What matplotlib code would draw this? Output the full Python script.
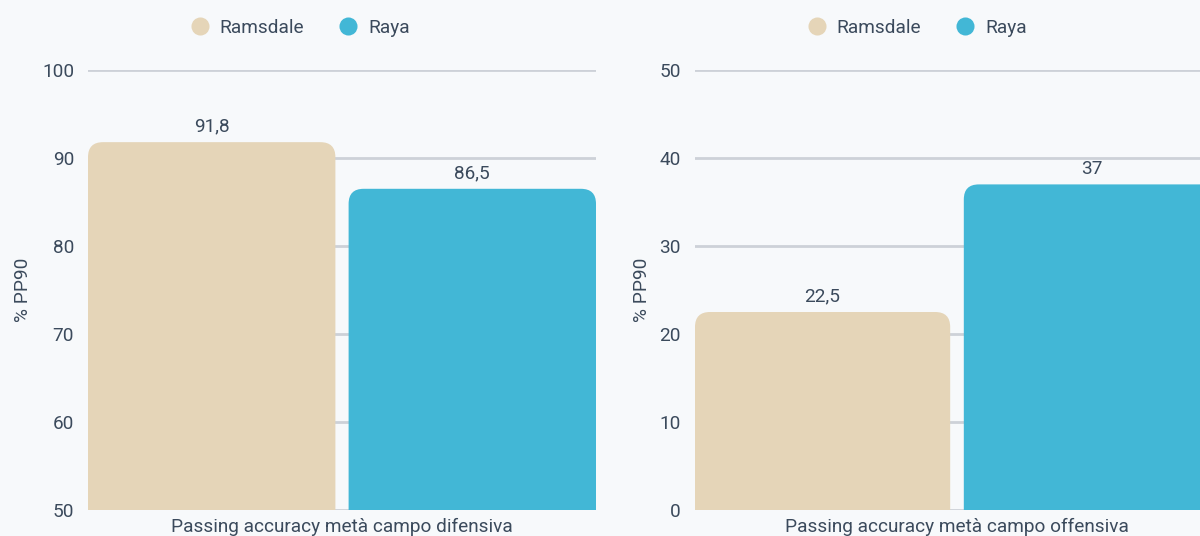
import matplotlib
matplotlib.use("Agg")
import matplotlib.pyplot as plt
from matplotlib.patches import FancyBboxPatch
from matplotlib.lines import Line2D

plt.rcParams['font.family'] = ['Roboto', 'DejaVu Sans']

players = ["Ramsdale", "Raya"]
colors = ["#e5d5b8", "#42b7d6"]
titles = ["Passing accuracy metà campo difensiva", "Passing accuracy metà campo offensiva"]
values_def = [91.8, 86.5]
values_off = [22.5, 37.0]
ylims = [(50, 100), (0, 50)]
yticks = [[50, 60, 70, 80, 90, 100], [0, 10, 20, 30, 40, 50]]
ylabel = "% PP90"

BG = "#f7f9fb"
TXT = "#3b4a5c"
GRID = "#cdd1d8"
FS = 13.7
W, H = 1200, 536
fig = plt.figure(figsize=(W / 100, H / 100), dpi=100, facecolor=BG)

ax_px = [(88, 508), (695, 524)]
top_px, bot_px = 70, 510
legend_cx = [300, 917]
ylabel_x = [32, 651]

def fmt(v):
    s = f"{v:g}"
    return s.replace(".", ",")

for i, (vals, title) in enumerate(zip([values_def, values_off], titles)):
    left, width = ax_px[i]
    ax = fig.add_axes([left / W, (H - bot_px) / H, width / W, (bot_px - top_px) / H])
    ax.set_facecolor(BG)
    y0, y1 = ylims[i]
    ax.set_xlim(0, 1)
    ax.set_ylim(y0, y1)
    ax.set_yticks(yticks[i])
    ax.tick_params(axis='y', length=0, pad=10, labelsize=FS, labelcolor=TXT)
    ax.set_xticks([])
    for s in ax.spines.values():
        s.set_visible(False)
    ax.grid(axis='y', color=GRID, linewidth=2)
    ax.set_axisbelow(True)
    ax.set_ylabel(ylabel, fontsize=FS, color=TXT)
    ax.yaxis.set_label_coords((ylabel_x[i] - left) / width, 0.5)
    ax.set_xlabel(title, fontsize=FS, color=TXT, labelpad=5.5)

    bw = 0.487
    centers = [bw / 2, 1 - bw / 2]
    bars = ax.bar(centers, vals, width=bw, bottom=0, color=colors)
    ypp = (y1 - y0) / (bot_px - top_px)
    xpp = 1.0 / width
    r_px = 15
    r = r_px * xpp
    for b, v, c in zip(bars, vals, colors):
        b.set_visible(False)
        x = b.get_x()
        ybot = y0 - 3 * r_px * ypp
        p = FancyBboxPatch((x, ybot), b.get_width(), v - ybot,
                           boxstyle=f"round,pad=0,rounding_size={r}",
                           mutation_aspect=ypp / xpp, facecolor=c,
                           edgecolor='none', zorder=2, clip_on=True)
        ax.add_patch(p)
        ax.annotate(fmt(v), (x + b.get_width() / 2, v), xytext=(0, 7.5),
                    textcoords='offset points', ha='center', va='baseline',
                    fontsize=FS, color=TXT)

    handles = [Line2D([], [], marker='o', linestyle='none', markersize=13,
                      markerfacecolor=c, markeredgecolor='none') for c in colors]
    fig.legend(handles, players, loc='center', bbox_to_anchor=(legend_cx[i] / W, 1 - 28 / H),
               ncol=2, frameon=False, fontsize=FS, labelcolor=TXT,
               handlelength=1.0, handletextpad=0.55, columnspacing=1.8)

fig.savefig("out.png", dpi=100, facecolor=BG)
